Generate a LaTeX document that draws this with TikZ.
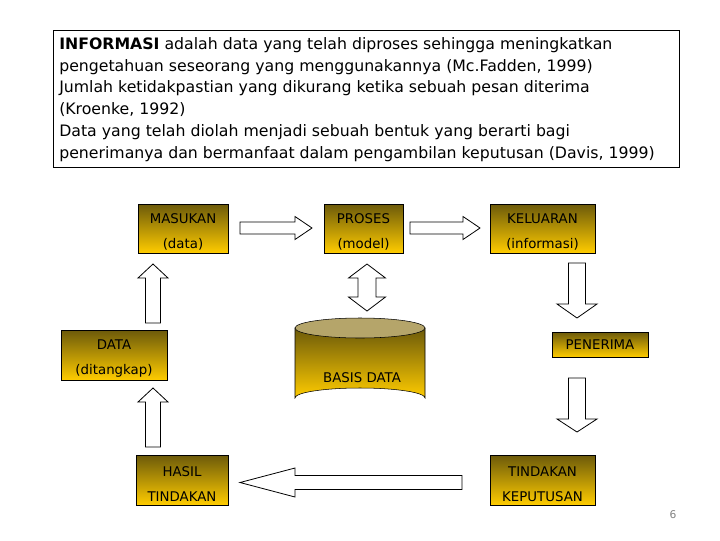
\documentclass[tikz,border=0pt]{standalone}
\usepackage{fontspec}
\setmainfont{DejaVu Sans}
\definecolor{olv}{HTML}{7F6A0C}
\definecolor{gld}{HTML}{FFCC00}
\definecolor{cyltop}{HTML}{B5A56A}
% horizontal: x-tail, x-tip, yc, shaft half, head half, head len
\newcommand\blkH[6]{\draw[blockarr] (#1,#3-#4) -- ({#2-(#6)},#3-#4) -- ({#2-(#6)},#3-#5) -- (#2,#3)
  -- ({#2-(#6)},#3+#5) -- ({#2-(#6)},#3+#4) -- (#1,#3+#4) -- cycle;}
% vertical: y-tail, y-tip, xc, shaft half, head half, head len
\newcommand\blkV[6]{\draw[blockarr] (#3-#4,#1) -- (#3-#4,{#2-(#6)}) -- (#3-#5,{#2-(#6)}) -- (#3,#2)
  -- (#3+#5,{#2-(#6)}) -- (#3+#4,{#2-(#6)}) -- (#3+#4,#1) -- cycle;}
\begin{document}
\begin{tikzpicture}[x=0.75pt,y=-0.75pt,
  blockarr/.style={draw=black,fill=white,line width=0.6pt},
  gbox/.style={draw=black,top color=olv!85!black,bottom color=gld,inner sep=0pt,align=center,
    font=\fontsize{10}{18.75}\selectfont}]
\useasboundingbox (0,0) rectangle (720,540);
\draw[fill=white] (53,30) rectangle (679,167);
\node[anchor=north west,align=left,inner sep=0pt,font=\fontsize{11.8}{16.4}\selectfont] (infot) at (59,37)
{\textbf{INFORMASI} adalah data yang telah diproses sehingga meningkatkan\\
pengetahuan seseorang yang menggunakannya (Mc.Fadden, 1999)\\
Jumlah ketidakpastian yang dikurang ketika sebuah pesan diterima\\
(Kroenke, 1992)\\
Data yang telah diolah menjadi sebuah bentuk yang berarti bagi\\
penerimanya dan bermanfaat dalam pengambilan keputusan (Davis, 1999)};

\node[gbox,minimum width=90*0.75pt,minimum height=49*0.75pt] (mas) at (183,228.5) {\strut MASUKAN\\(data)};
\node[gbox,minimum width=79*0.75pt,minimum height=49*0.75pt] (pro) at (363.5,228.5) {\strut PROSES\\(model)};
\node[gbox,minimum width=105*0.75pt,minimum height=49*0.75pt] (kel) at (542.5,228.5) {\strut KELUARAN\\(informasi)};
\node[gbox,minimum width=106*0.75pt,minimum height=50*0.75pt] (dat) at (114,355) {\strut DATA\\(ditangkap)};
\node[gbox,minimum width=96*0.75pt,minimum height=25*0.75pt] (pen) at (600,344.5) {PENERIMA};
\node[gbox,minimum width=92*0.75pt,minimum height=50*0.75pt] (has) at (182,480) {\strut HASIL\\TINDAKAN};
\node[gbox,minimum width=105*0.75pt,minimum height=50*0.75pt] (tin) at (542.5,480) {\strut TINDAKAN\\KEPUTUSAN};

% cylinder
\shade[draw=black,top color=olv!85!black,bottom color=gld]
  (295,328) -- (295,398) arc[start angle=180,end angle=360,x radius=65,y radius=10] -- (425,328) -- cycle;
\draw[fill=cyltop] (360,328) ellipse[x radius=65,y radius=10];
\node[font=\fontsize{10}{12}\selectfont] (bas) at (362,378) {BASIS DATA};

% block arrows
\blkH{240}{312}{228}{6}{11.5}{17}
\blkH{410}{480}{228}{6}{11.5}{17}
\blkH{462}{240}{482.5}{7}{14.5}{-55}
\blkV{323}{264}{153}{7.5}{15}{-14}
\blkV{447}{388}{153}{7.5}{15}{-14}
\blkV{263}{318}{577}{8.5}{20}{14}
\blkV{378}{432}{577}{8.5}{20}{13}
% double arrow
\draw[blockarr] (367,264) -- (385.5,278) -- (376,278) -- (376,297) -- (385.5,297) -- (367,311)
  -- (348.5,297) -- (358,297) -- (358,278) -- (348.5,278) -- cycle;

\node[text=gray,font=\fontsize{8}{10}\selectfont] (pg) at (673,515) {6};
\end{tikzpicture}
\end{document}
